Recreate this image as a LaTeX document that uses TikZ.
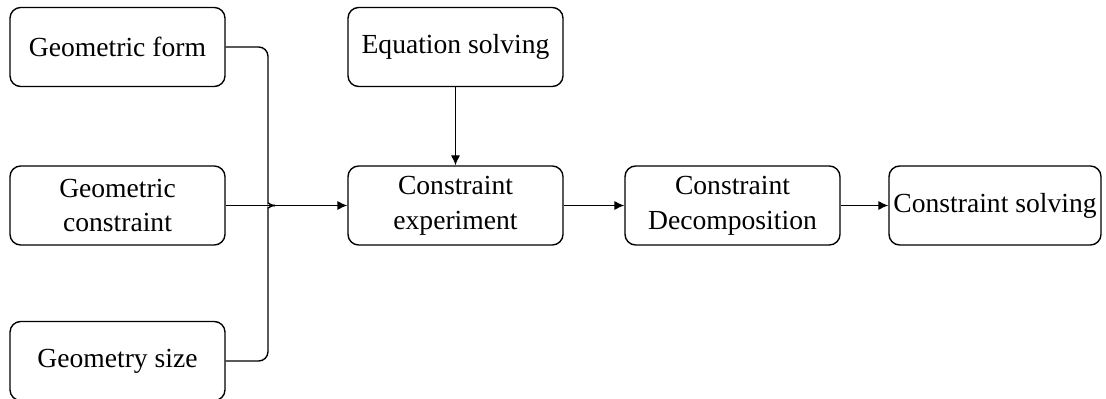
\documentclass[tikz,border=0pt]{standalone}
\usepackage{fontspec}
\setmainfont{Liberation Serif}
\usetikzlibrary{arrows.meta,positioning,calc}

\begin{document}
\begin{tikzpicture}[x=0.75pt, y=-0.75pt, line width=1.05pt,
    arr/.style={-{Latex[length=7.5pt,width=7pt]}},
    box/.style={draw, rounded corners=8pt, minimum width=161.25pt, minimum height=59.25pt,
      align=center, inner sep=0pt, font=\fontsize{20.7}{26}\selectfont}]
    \useasboundingbox (0,0) rectangle (1106,399);

    % inputs on the left
    \node [box] (form) at (117.5, 47) {Geometric form};
    \node [box] (cons) at (117.5, 205.5) {Geometric\\constraint};
    \node [box] (size) at (117.5, 361) {Geometry size};

    % main chain
    \node [box] (eqn) at (455.5, 47) {Equation solving};
    \node [box] (exper) at (455.5, 205.5) {Constraint\\experiment};
    \node [box] (decomp) at (732.5, 205.5) {Constraint\\Decomposition};
    \node [box, minimum width=159pt] (solve) at (995, 205.5) {Constraint solving};

    % bus with the small hop
    \draw [rounded corners=7pt] (form.east) -| (268, 194)
        .. controls (268, 202) and (270, 205.5) .. (275, 205.5);
    \draw [rounded corners=7pt] (size.east) -| (268, 217)
        .. controls (268, 209) and (270, 205.5) .. (275, 205.5);
    \draw [arr] (cons.east) -- (exper.west);

    \draw [arr] (eqn) -- (exper);
    \draw [arr] (exper) -- (decomp);
    \draw [arr] (decomp) -- (solve);
\end{tikzpicture}
\end{document}
